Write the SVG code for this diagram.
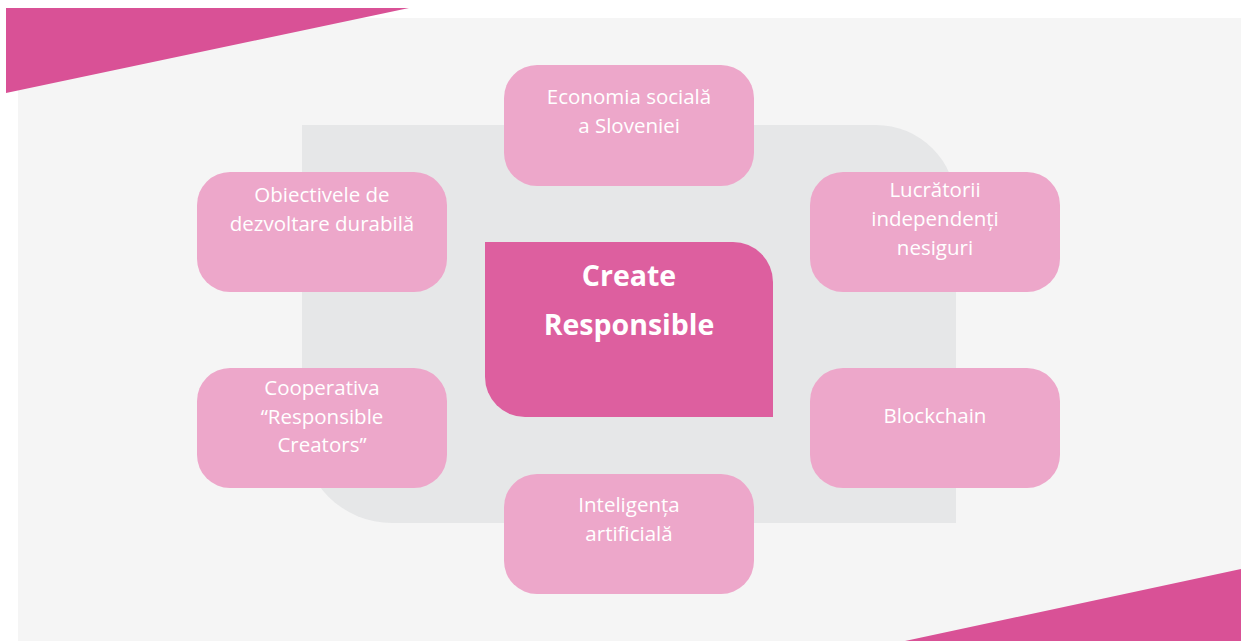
<svg xmlns="http://www.w3.org/2000/svg" width="1241" height="641" viewBox="0 0 1241 641">
<style>
.node{fill:#EDA7CA}
.t{font-family:"Open Sans","Liberation Sans",sans-serif;font-size:20.5px;fill:#FFFFFF;text-anchor:middle}
.tb{font-family:"Open Sans","Liberation Sans",sans-serif;font-size:28.5px;font-weight:bold;fill:#FFFFFF;text-anchor:middle}
</style>
<rect x="0" y="0" width="1241" height="641" fill="#FFFFFF"/>
<rect x="18" y="18" width="1223" height="623" fill="#F5F5F5"/>
<polygon points="6,8 409,8 6,93" fill="#D95196"/>
<polygon points="905,641 1241,569 1241,641" fill="#D95196"/>
<path d="M302,125 H876 A80,80 0 0 1 956,205 V523 H392 A90,90 0 0 1 302,433 Z" fill="#E6E7E8"/>
<g id="center">
<path d="M485,242 H733 A40,40 0 0 1 773,282 V417 H525 A40,40 0 0 1 485,377 Z" fill="#DD5F9F"/>
<text class="tb" x="629" y="286">Create</text>
<text class="tb" x="629" y="335">Responsible</text>
</g>
<g id="connectors"></g>
<g id="n-economia">
<rect class="node" x="504" y="65" width="250" height="121" rx="33"/>
<text class="t" x="629" y="104">Economia socială</text>
<text class="t" x="629" y="133">a Sloveniei</text>
</g>
<g id="n-obiectivele">
<rect class="node" x="197" y="172" width="250" height="120" rx="33"/>
<text class="t" x="322" y="202">Obiectivele de</text>
<text class="t" x="322" y="231">dezvoltare durabilă</text>
</g>
<g id="n-lucratorii">
<rect class="node" x="810" y="172" width="250" height="120" rx="33"/>
<text class="t" x="935" y="197">Lucrătorii</text>
<text class="t" x="935" y="226">independenți</text>
<text class="t" x="935" y="255">nesiguri</text>
</g>
<g id="n-cooperativa">
<rect class="node" x="197" y="368" width="250" height="120" rx="33"/>
<text class="t" x="322" y="395">Cooperativa</text>
<text class="t" x="322" y="424">“Responsible</text>
<text class="t" x="322" y="452">Creators”</text>
</g>
<g id="n-blockchain">
<rect class="node" x="810" y="368" width="250" height="120" rx="33"/>
<text class="t" x="935" y="423">Blockchain</text>
</g>
<g id="n-inteligenta">
<rect class="node" x="504" y="474" width="250" height="120" rx="33"/>
<text class="t" x="629" y="512">Inteligența</text>
<text class="t" x="629" y="541">artificială</text>
</g>
</svg>
